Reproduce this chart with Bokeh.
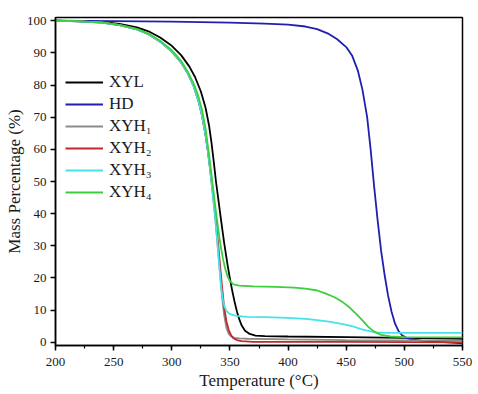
from bokeh.plotting import figure
from bokeh.models import Legend, LegendItem, SingleIntervalTicker, Range1d
from bokeh.embed import file_html
from bokeh.resources import INLINE

# ---- data ----
T_xyl = [200, 220, 240, 255, 270, 280, 290, 300, 308, 315, 320, 325, 329, 332, 334, 336, 338,
         340, 342, 345, 348, 350, 352, 354, 356, 358, 360, 363, 367, 372, 380, 400, 450, 500, 550]
M_xyl = [100.0, 99.9, 99.6, 99.0, 97.9, 96.7, 94.8, 92.2, 89.3, 85.8, 82.5, 78.0, 73.0, 67.5,
         62.5, 56.5, 50.0, 44.5, 39.0, 31.0, 24.0, 19.8, 16.0, 12.6, 9.6, 7.2, 5.3, 3.6, 2.6,
         2.1, 1.9, 1.8, 1.6, 1.4, 1.1]

T_hd = [200, 250, 300, 350, 380, 400, 415, 425, 435, 442, 450, 455, 460, 464, 468, 471, 474,
        477, 480, 483, 486, 489, 492, 495, 498, 502, 508, 515, 530, 550]
M_hd = [100.0, 99.9, 99.7, 99.4, 99.1, 98.8, 98.2, 97.4, 95.9, 94.3, 91.8, 89.2, 84.5, 78.5,
        70.0, 60.0, 48.5, 38.0, 28.5, 21.0, 14.5, 9.5, 5.8, 3.5, 2.2, 1.3, 0.8, 0.5, 0.1, -0.3]

T_xyh1 = [200, 220, 240, 255, 270, 280, 290, 300, 308, 314, 319, 323, 326, 329, 331, 333, 335,
          337, 339, 341, 343, 345, 347, 349, 351, 354, 358, 365, 400, 450, 550]
M_xyh1 = [100.0, 99.8, 99.4, 98.6, 97.3, 95.8, 93.5, 90.4, 87.0, 83.5, 79.5, 75.0, 70.5, 64.5,
          59.5, 53.5, 47.0, 40.0, 32.0, 23.5, 15.0, 8.5, 4.5, 2.6, 1.8, 1.4, 1.2, 1.1, 0.9,
          0.7, 0.5]

T_xyh2 = [200, 220, 240, 255, 270, 280, 290, 300, 308, 314, 319, 323, 326, 329, 331, 333, 335,
          337, 339, 341, 343, 345, 347, 349, 351, 353, 356, 360, 370, 450, 550]
M_xyh2 = [100.0, 99.8, 99.4, 98.6, 97.3, 95.8, 93.5, 90.4, 87.0, 83.5, 79.5, 75.0, 70.5, 64.5,
          59.5, 54.0, 48.0, 41.5, 34.0, 26.0, 18.0, 11.0, 6.5, 3.8, 2.2, 1.3, 0.7, 0.35, 0.15,
          0.1, 0.0]

T_xyh3 = [200, 220, 240, 255, 270, 280, 290, 300, 308, 314, 319, 323, 326, 329, 331, 333, 335,
          337, 339, 341, 342.5, 344, 345.5, 347, 349, 352, 356, 365, 380, 400, 415, 425, 435,
          445, 455, 462, 468, 475, 485, 550]
M_xyh3 = [100.0, 99.8, 99.4, 98.6, 97.3, 95.8, 93.5, 90.4, 87.0, 83.5, 79.5, 75.0, 70.5, 64.5,
          59.5, 53.5, 47.0, 40.0, 32.0, 23.0, 17.0, 13.0, 11.0, 9.8, 9.0, 8.5, 8.2, 7.9, 7.8,
          7.6, 7.3, 6.9, 6.4, 5.8, 5.0, 4.2, 3.6, 3.1, 2.9, 2.9]

T_xyh4 = [200, 220, 240, 255, 270, 280, 290, 300, 308, 314, 319, 323, 326, 329, 332, 334, 336,
          338, 340, 342, 344, 346, 348, 350, 353, 358, 370, 390, 405, 415, 425, 432, 440, 447,
          453, 459, 464, 469, 474, 480, 488, 500, 550]
M_xyh4 = [100.0, 99.8, 99.5, 98.7, 97.5, 96.0, 93.8, 90.8, 87.5, 84.0, 80.3, 76.3, 72.3, 66.5,
          58.5, 52.5, 46.5, 40.5, 35.0, 30.0, 26.0, 22.8, 20.5, 19.0, 18.0, 17.6, 17.4, 17.2,
          17.0, 16.7, 16.1, 15.2, 14.0, 12.5, 10.8, 8.7, 6.8, 4.8, 3.3, 2.3, 1.8, 1.6, 1.5]

labels = ["XYL", "HD", "XYH\u2081", "XYH\u2082", "XYH\u2083", "XYH\u2084"]
colors = ["#000000", "#1f1fb0", "#8c8c8c", "#c0282d", "#45e3ea", "#3ccf3c"]
series = [(T_xyl, M_xyl), (T_hd, M_hd), (T_xyh1, M_xyh1), (T_xyh2, M_xyh2),
          (T_xyh3, M_xyh3), (T_xyh4, M_xyh4)]

FONT = "Liberation Serif"
TXT = "#1a1a1a"

p = figure(width=478, height=394, output_backend="svg", toolbar_location=None,
           x_range=Range1d(200, 550), y_range=Range1d(-1, 101),
           min_border_left=55, min_border_top=17, min_border_right=16, min_border_bottom=49)

p.xgrid.visible = False
p.ygrid.visible = False
p.outline_line_color = "black"
p.outline_line_width = 1.5

renderers = []
for (t, m), c in zip(series, colors):
    r = p.line(t, m, line_color=c, line_width=1.8)
    renderers.append(r)

p.xaxis.ticker = SingleIntervalTicker(interval=50, num_minor_ticks=2)
p.yaxis.ticker = SingleIntervalTicker(interval=10, num_minor_ticks=0)
p.xaxis.axis_label = "Temperature (\u00b0C)"
p.yaxis.axis_label = "Mass Percentage (%)"

for ax in (p.xaxis[0], p.yaxis[0]):
    ax.axis_line_color = "black"
    ax.axis_line_width = 1.5
    ax.major_tick_line_color = "black"
    ax.major_tick_line_width = 1.5
    ax.major_tick_in = 0
    ax.major_tick_out = 5
    ax.minor_tick_line_color = "black"
    ax.minor_tick_line_width = 1.2
    ax.minor_tick_in = 0
    ax.minor_tick_out = 3
    ax.major_label_text_font = FONT
    ax.major_label_text_font_size = "13px"
    ax.major_label_text_color = TXT
    ax.axis_label_text_font = FONT
    ax.axis_label_text_font_style = "normal"
    ax.axis_label_text_color = TXT
    ax.axis_label_text_font_size = "17px"

p.xaxis.major_label_standoff = 7
p.xaxis.axis_label_standoff = 2
p.yaxis.major_label_standoff = 4
p.yaxis.axis_label_standoff = 0

legend = Legend(items=[LegendItem(label=l, renderers=[r]) for l, r in zip(labels, renderers)],
                location=(10, 143), glyph_width=38, glyph_height=20, label_height=20,
                spacing=2, padding=0, margin=0, label_standoff=6,
                border_line_alpha=0, background_fill_alpha=0,
                label_text_font=FONT, label_text_font_size="17px", label_text_color=TXT)
p.add_layout(legend)

open("out.html", "w").write(file_html(p, INLINE))
